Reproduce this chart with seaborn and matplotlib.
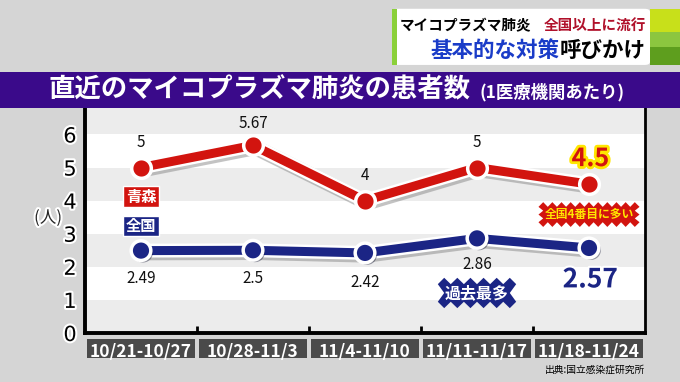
import pandas as pd
import seaborn as sns
import matplotlib.pyplot as plt
import matplotlib.patheffects as pe
from matplotlib.patches import Rectangle, FancyBboxPatch

# données
weeks = ['10/21-10/27', '10/28-11/3', '11/4-11/10', '11/11-11/17', '11/18-11/24']
aomori = [5, 5.67, 4, 5, 4.5]
zenkoku = [2.49, 2.5, 2.42, 2.86, 2.57]
aomori_labels = ['5', '5.67', '4', '5', '4.5']
zenkoku_labels = ['2.49', '2.5', '2.42', '2.86', '2.57']

sns.set_theme(style='white')
plt.rcParams['font.family'] = ['Noto Sans CJK JP', 'DejaVu Sans']

RED = '#d2140f'
NAVY = '#1b2585'

df = pd.DataFrame({
    'week': weeks * 2,
    'value': aomori + zenkoku,
    'area': ['青森'] * len(weeks) + ['全国'] * len(weeks),
})

fig = plt.figure(figsize=(6.8, 3.82), dpi=100)
fig.patch.set_facecolor('#d5d5d5')

# bandeau titre violet
fig.patches.append(Rectangle((0, 0.717), 1, 0.094, transform=fig.transFigure,
                             facecolor='#3a0a8a', edgecolor='none', zorder=1))
fig.text(48 / 680, 0.764, '直近のマイコプラズマ肺炎の患者数', color='white',
         fontsize=19, fontweight='bold', va='center', ha='left')
fig.text(479 / 680, 0.758, '(1医療機関あたり)', color='white',
         fontsize=12.5, fontweight='bold', va='center', ha='left')

# encart en haut à droite
fig.patches.append(FancyBboxPatch((392 / 680, 0.830), 258 / 680, 0.147,
                                  boxstyle='round,pad=0,rounding_size=0.008',
                                  transform=fig.transFigure, facecolor='white',
                                  edgecolor='none'))
fig.patches.append(Rectangle((392 / 680, 0.830), 5 / 680, 0.147, transform=fig.transFigure,
                             facecolor='#8bd03a', edgecolor='none'))
for y0, h, c in [(0.916, 0.060, '#c8e01a'), (0.877, 0.039, '#8cc63f'), (0.830, 0.047, '#5e9e1e')]:
    fig.patches.append(Rectangle((650 / 680, y0), 30 / 680, h, transform=fig.transFigure,
                                 facecolor=c, edgecolor='none'))
fig.text(531 / 680, 0.934, 'マイコプラズマ肺炎', color='black', fontsize=10.5,
         fontweight='bold', ha='right', va='center')
fig.text(646 / 680, 0.934, '全国以上に流行', color='#b0102a', fontsize=10.5,
         fontweight='bold', ha='right', va='center')
fig.text(559 / 680, 0.869, '基本的な対策', color='#1a3cc8', fontsize=15.5,
         fontweight='bold', ha='right', va='center')
fig.text(646 / 680, 0.869, '呼びかけ', color='black', fontsize=15.5,
         fontweight='bold', ha='right', va='center')

ax = fig.add_axes([85 / 680, 49 / 382, 560 / 680, 225 / 382])
ax.set_facecolor('white')
ax.set_axisbelow(False)
for lo in [0, 2, 4, 6]:
    ax.axhspan(lo, lo + 1, color='#ececec', zorder=0, lw=0)

line_fx = [pe.SimpleLineShadow(offset=(1.5, -1.5), shadow_color='#888888', alpha=0.5, linewidth=11),
           pe.Stroke(linewidth=10, foreground='white'), pe.Normal()]
dot_fx = [pe.SimplePatchShadow(offset=(1.5, -1.5), alpha=0.4), pe.Normal()]

for area, col in [('青森', RED), ('全国', NAVY)]:
    sub = df[df['area'] == area]
    sns.lineplot(data=sub, x='week', y='value', color=col, lw=6.5, ax=ax,
                 legend=False, path_effects=line_fx, zorder=3)
    sns.scatterplot(data=sub, x='week', y='value', color=col, s=200,
                    edgecolor='white', linewidth=2.5, ax=ax, legend=False, zorder=4)
ax.collections[-1].set_path_effects(dot_fx)
ax.collections[-2].set_path_effects(dot_fx)

ax.set_xlim(-0.5, 4.5)
ax.set_ylim(0, 6.8)
ax.set_yticks(range(7))
ax.set_xlabel('')
ax.set_ylabel('')

# étiquettes de valeurs
offs_r = [18, 16, 18, 18]
for i, (v, t) in enumerate(zip(aomori[:-1], aomori_labels[:-1])):
    ax.annotate(t, (i, v), xytext=(0, offs_r[i]), textcoords='offset points',
                ha='center', va='center', fontsize=11, color='#111111')
offs_b = [-20, -20, -21, -19]
for i, (v, t) in enumerate(zip(zenkoku[:-1], zenkoku_labels[:-1])):
    ax.annotate(t, (i, v), xytext=(0, offs_b[i]), textcoords='offset points',
                ha='center', va='center', fontsize=11, color='#111111')
ax.annotate(aomori_labels[-1], (4, aomori[-1]), xytext=(1, 18), textcoords='offset points',
            ha='center', va='center', fontsize=18, fontweight='bold', color=RED,
            path_effects=[pe.Stroke(linewidth=4, foreground='#ffe600'), pe.Normal()])
ax.annotate(zenkoku_labels[-1], (4, zenkoku[-1]), xytext=(1, -23), textcoords='offset points',
            ha='center', va='center', fontsize=19, fontweight='bold', color=NAVY,
            path_effects=[pe.Stroke(linewidth=3, foreground='white'), pe.Normal()])

# légende façon TV
ax.text(0, 4.12, '青森', color='white', fontsize=11, fontweight='bold', ha='center', va='center',
        bbox=dict(boxstyle='square,pad=0.15', fc=RED, ec='white', lw=1), zorder=5)
ax.text(0, 3.24, '全国', color='white', fontsize=11, fontweight='bold', ha='center', va='center',
        bbox=dict(boxstyle='square,pad=0.15', fc=NAVY, ec='white', lw=1), zorder=5)

# badges
ax.text(4, 3.58, '全国4番目に多い', color='#ffe600', fontsize=8.5, fontweight='bold',
        ha='center', va='center', zorder=6,
        bbox=dict(boxstyle='sawtooth,pad=0.5,tooth_size=0.4', fc=RED, ec='none'))
ax.text(3, 1.21, '過去最多', color='white', fontsize=11.5, fontweight='bold',
        ha='center', va='center', zorder=6,
        bbox=dict(boxstyle='sawtooth,pad=0.45,tooth_size=0.4', fc=NAVY, ec='none'))

ax.text(-0.066, 0.51, '(人)', transform=ax.transAxes, fontsize=12, ha='center', va='center',
        path_effects=[pe.Stroke(linewidth=3, foreground='white'), pe.Normal()])

# axes
for s in ['left', 'bottom']:
    ax.spines[s].set_linewidth(2.8)
    ax.spines[s].set_color('black')
ax.spines['right'].set_linewidth(2)
ax.spines['right'].set_color('black')
ax.spines['top'].set_visible(False)

ax.set_xticks([0.5, 1.5, 2.5, 3.5], minor=True)
ax.tick_params(axis='x', which='minor', bottom=True, direction='in', length=5, width=2,
               color='black')
ax.tick_params(axis='x', which='major', length=0, pad=7, labelsize=12.5, labelcolor='white')
ax.tick_params(axis='y', length=0, pad=6, labelsize=15, labelcolor='black')
for lbl in ax.get_xticklabels():
    lbl.set_fontweight('bold')
for lbl in ax.get_yticklabels():
    lbl.set_path_effects([pe.Stroke(linewidth=3, foreground='white'), pe.Normal()])
    lbl.set_family(['DejaVu Sans'])

# cases grises des catégories
for i in range(len(weeks)):
    ax.add_patch(Rectangle((i - 0.478, -0.111), 0.956, 0.084, transform=ax.get_xaxis_transform(),
                           facecolor='#4a4a4a', edgecolor='none', clip_on=False, zorder=0.2))

fig.text(645 / 680, 1 - 370 / 382, '出典:国立感染症研究所', fontsize=7, ha='right', va='center',
         color='black')

fig.savefig('out.png', dpi=100, facecolor=fig.get_facecolor())
